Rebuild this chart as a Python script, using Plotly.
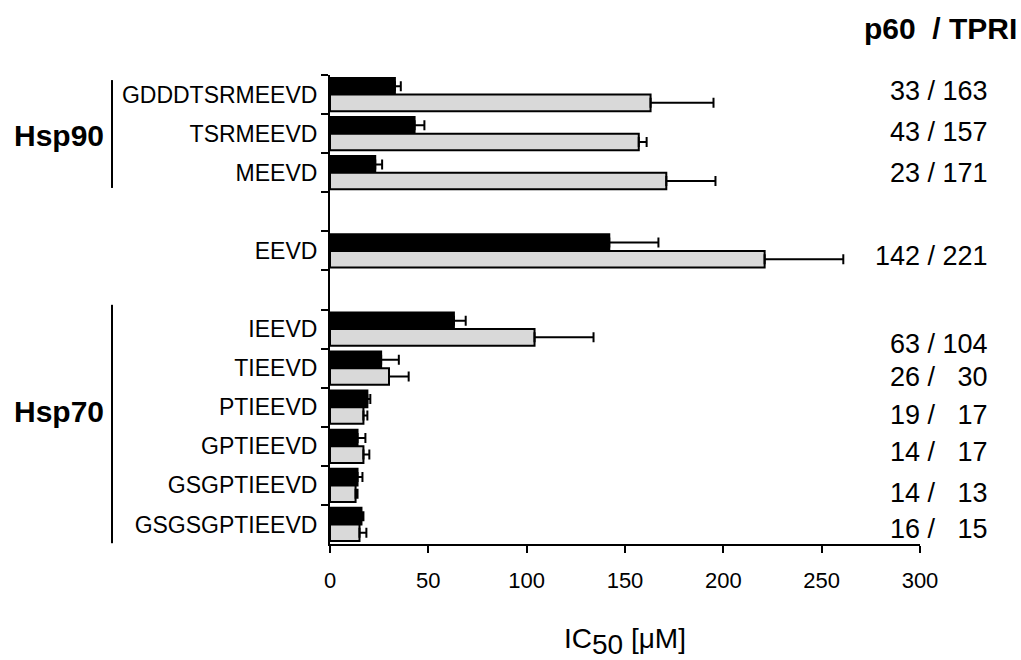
import plotly.graph_objects as go

# ---------------- data ----------------
slots = ["GDDDTSRMEEVD", "TSRMEEVD", "MEEVD", " ", "EEVD", "  ",
         "IEEVD", "TIEEVD", "PTIEEVD", "GPTIEEVD", "GSGPTIEEVD", "GSGSGPTIEEVD"]
peptides = ["GDDDTSRMEEVD", "TSRMEEVD", "MEEVD", "EEVD", "IEEVD",
            "TIEEVD", "PTIEEVD", "GPTIEEVD", "GSGPTIEEVD", "GSGSGPTIEEVD"]
p60 = [33, 43, 23, 142, 63, 26, 19, 14, 14, 16]
p60_err = [3, 5, 3.5, 25, 6, 9, 1.5, 4, 2.5, 1]
tpri = [163, 157, 171, 221, 104, 30, 17, 17, 13, 15]
tpri_err = [32, 4, 25, 40, 30, 10, 2, 3, 1, 3.5]
x_ticks = [0, 50, 100, 150, 200, 250, 300]
groups = ["Hsp90", "Hsp70"]
group_members = [["GDDDTSRMEEVD", "TSRMEEVD", "MEEVD"],
                 ["IEEVD", "TIEEVD", "PTIEEVD", "GPTIEEVD", "GSGPTIEEVD", "GSGSGPTIEEVD"]]

# ---------------- layout helpers ----------------
value_y_shift = [-0.1, -0.05, 0.0, 0.12, 0.38, 0.22, 0.2, 0.15, 0.2, 0.12]
group_label_shift = [0.06, -0.38]
bracket_top_shift = [-0.37, -0.62]
bracket_bottom_shift = [0.39, 0.48]
FONT = "Liberation Sans, Arial, sans-serif"
NB = "\u00a0"

fig = go.Figure()
fig.add_trace(go.Bar(
    y=peptides, x=p60, orientation="h", name="p60",
    marker=dict(color="black", line=dict(color="black", width=2)),
    error_x=dict(type="data", array=p60_err, arrayminus=[0] * len(p60_err),
                 symmetric=False, color="black", thickness=2, width=5),
))
fig.add_trace(go.Bar(
    y=peptides, x=tpri, orientation="h", name="TPRI",
    marker=dict(color="#d9d9d9", line=dict(color="black", width=2)),
    error_x=dict(type="data", array=tpri_err, arrayminus=[0] * len(tpri_err),
                 symmetric=False, color="black", thickness=2, width=5),
))

annotations = []
for i, pep in enumerate(peptides):
    idx = slots.index(pep)
    if tpri[i] >= 100:
        txt = f"{p60[i]} / {tpri[i]}"
    else:
        txt = f"{p60[i]} /{NB*3}{tpri[i]}"
    annotations.append(dict(
        x=1.1186, xref="paper", y=idx + value_y_shift[i], yref="y",
        text=txt, showarrow=False, xanchor="right", yanchor="middle",
        font=dict(family=FONT, size=27, color="black")))

annotations.append(dict(
    x=1.0, xref="paper", xanchor="right", xshift=99,
    y=1 + (75 - 29) / 469, yref="paper",
    text=f"<b>p60{NB} / TPRI</b>", showarrow=False, yanchor="middle",
    font=dict(family=FONT, size=30, color="black")))

shapes = []
for k, (g, members) in enumerate(zip(groups, group_members)):
    i0 = slots.index(members[0])
    i1 = slots.index(members[-1])
    shapes.append(dict(type="line", xref="paper", yref="y",
                       x0=-0.3695, x1=-0.3695,
                       y0=i0 + bracket_top_shift[k], y1=i1 + bracket_bottom_shift[k],
                       line=dict(color="black", width=2)))
    annotations.append(dict(
        x=-0.3797, xref="paper", y=(i0 + i1) / 2 + group_label_shift[k], yref="y",
        text=f"<b>{g}</b>", showarrow=False, xanchor="right", yanchor="middle",
        font=dict(family=FONT, size=30, color="black")))

fig.update_layout(
    width=1021, height=660,
    margin=dict(l=330, r=101, t=75, b=116),
    paper_bgcolor="white", plot_bgcolor="white",
    barmode="group", bargap=0.15, bargroupgap=0,
    showlegend=False,
    font=dict(family=FONT, color="black"),
    annotations=annotations, shapes=shapes,
    xaxis=dict(range=[0, 300], tickvals=x_ticks, ticktext=[str(v) for v in x_ticks],
               showgrid=False, zeroline=False, showline=True, linecolor="black",
               linewidth=2, ticks="outside", ticklen=7, tickwidth=2, tickcolor="black",
               ticklabelstandoff=9,
               tickfont=dict(family=FONT, size=22, color="black"),
               title=dict(text="IC<sub><span style='font-size:28px'>50</span></sub> [μM]",
                          standoff=36,
                          font=dict(family=FONT, size=28, color="black"))),
    yaxis=dict(type="category", categoryorder="array", categoryarray=slots,
               range=[len(slots) - 0.5, -0.5], tickson="boundaries",
               showgrid=False, zeroline=False, showline=True, linecolor="black",
               linewidth=2, ticks="outside", ticklen=7, tickwidth=2, tickcolor="black",
               ticklabelstandoff=6,
               tickfont=dict(family=FONT, size=23, color="black")),
)

fig.write_html("out.html")
